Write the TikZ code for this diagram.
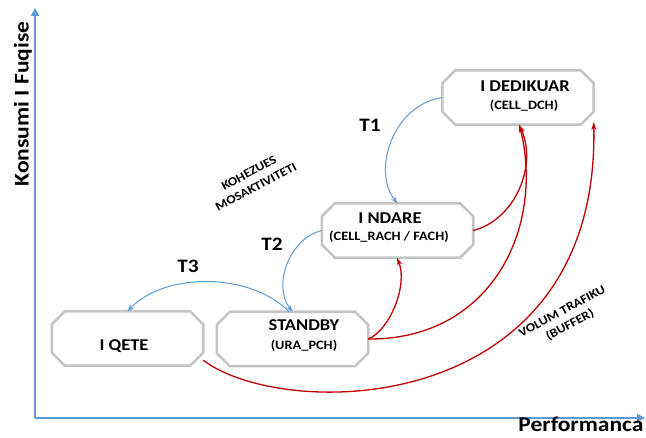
\documentclass[tikz,border=0pt]{standalone}
\usepackage{fontspec}
\setmainfont{Carlito}
\newfontfamily\labelfont[FakeStretch=1.12]{Carlito}
\usetikzlibrary{calc,arrows.meta}
\definecolor{axisblue}{HTML}{5B9BD5}
\definecolor{flowred}{HTML}{C00000}
\definecolor{boxgray}{HTML}{C4C4C4}
\tikzset{
  statebox/.style={rectangle, draw=none, minimum width=151pt, minimum height=54pt, inner sep=0pt},
  boxline/.style={draw=boxgray, line width=2.6pt, fill=white, line join=miter},
  title/.style={font=\labelfont\bfseries\fontsize{16.5}{18}\selectfont, inner sep=0pt},
  subtitle/.style={font=\labelfont\bfseries\fontsize{12.8}{14}\selectfont, inner sep=0pt},
  tlabel/.style={font=\labelfont\bfseries\fontsize{19}{21}\selectfont, inner sep=0pt},
  sidenote/.style={font=\labelfont\bfseries\fontsize{12.3}{13}\selectfont, inner sep=0pt, rotate=28},
  axislabel/.style={font=\labelfont\bfseries\fontsize{21}{22}\selectfont, inner sep=0pt},
  axisline/.style={draw=axisblue, line width=2.5pt, -{Triangle[length=8pt,width=8pt]}},
  bluearrow/.style={draw=axisblue, line width=1pt, -{Stealth[length=7pt,width=5pt]}},
  redarrow/.style={draw=flowred, line width=1.3pt, -{Stealth[length=8pt,width=5pt]}},
}
% octagonal outline (chamfered corners) around a named node
\newcommand\chamferbox[1]{%
  \draw[boxline] ($(#1.north west)+(13,0)$) -- ($(#1.north east)+(-13,0)$)
    -- ($(#1.north east)+(0,13)$) -- ($(#1.south east)+(0,-13)$)
    -- ($(#1.south east)+(-13,0)$) -- ($(#1.south west)+(13,0)$)
    -- ($(#1.south west)+(0,-13)$) -- ($(#1.north west)+(0,13)$) -- cycle;}
\begin{document}
\begin{tikzpicture}[x=1pt,y=-1pt]
  \useasboundingbox (0,0) rectangle (646,438);

  % axes
  \coordinate (origin) at (35,418);
  \coordinate (ytop) at (35,8);
  \coordinate (xend) at (645,418);
  \draw[axisline] (origin) -- (ytop);
  \draw[axisline] (origin) -- (xend);
  \node[axislabel, rotate=90] (ylab) at (23,104) {Konsumi I Fuqise};
  \node[axislabel, anchor=base] (xlab) at (581,432) {Performanca};

  % states
  \node[statebox] (ded) at (518,97.5) {};
  \node[statebox] (ndare) at (397.5,230.5) {};
  \node[statebox] (stby) at (292.5,339) {};
  \node[statebox] (qete) at (127.5,338.5) {};
  \chamferbox{ded}
  \chamferbox{ndare}
  \chamferbox{stby}
  \chamferbox{qete}

  \node[title] (dedT) at (525,86) {I DEDIKUAR};
  \node[subtitle] (dedS) at (524,106) {(CELL\_DCH)};
  \node[title] (ndaT) at (390,218) {I NDARE};
  \node[subtitle] (ndaS) at (389,237) {(CELL\_RACH / FACH)};
  \node[title] (stbT) at (304,325) {STANDBY};
  \node[subtitle] (stbS) at (304,346) {(URA\_PCH)};
  \node[title] (qetT) at (124,346) {I QETE};

  % transitions towards lower consumption
  \draw[bluearrow] (ded.west) .. controls (392,105) and (372,172) .. (ndare.north);
  \draw[bluearrow] (ndare.west) .. controls (290,238) and (272,285) .. (stby.north);
  \draw[bluearrow] (stby.97) .. controls (250,272) and (165,272) .. (qete.north);
  \node[tlabel] (t1) at (370,125) {T1};
  \node[tlabel] (t2) at (272,244) {T2};
  \node[tlabel] (t3) at (188,266) {T3};

  % transitions towards higher performance
  \draw[redarrow] (ndare.east) .. controls (515,220) and (538,165) .. (ded.-88);
  \draw[redarrow] (stby.east) .. controls (390,330) and (408,285) .. (ndare.-91);
  \draw[redarrow] (stby.east) .. controls (490,340) and (545,230) .. (ded.-87);
  \draw[redarrow] (qete.-16) .. controls (285,422) and (600,418) .. (ded.-18);

  % side notes
  \node[sidenote] (cohesionA) at (249,173) {KOHEZUES};
  \node[sidenote] (cohesionB) at (256,187) {MOSAKTIVITETI};
  \node[sidenote] (trafficA) at (562,311) {VOLUM TRAFIKU};
  \node[sidenote] (trafficB) at (570,325) {(BUFFER)};
\end{tikzpicture}
\end{document}
